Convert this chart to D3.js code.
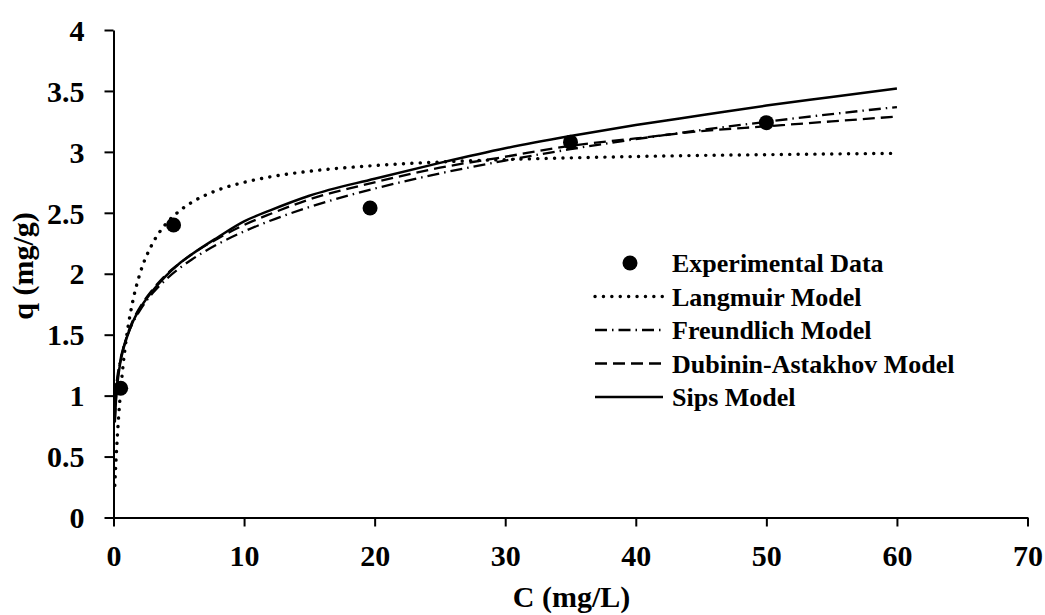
<!DOCTYPE html>
<html>
<head>
<meta charset="utf-8">
<script src="https://cdn.jsdelivr.net/npm/d3@7"></script>
<style>
  body { margin: 0; background: #fff; }
  text { font-family: "Liberation Serif", "Times New Roman", serif; font-weight: bold; fill: #000; }
</style>
</head>
<body>
<div id="chart"></div>
<script>
// experimental points
const expC = [0.55, 4.6, 19.65, 35.0, 50.0];
const expQ = [1.06, 2.40, 2.54, 3.08, 3.24];

// model curves
const modelC = [0.1, 0.2, 0.3, 0.5, 0.75, 1, 1.5, 2, 3, 4, 5, 6, 8, 10, 12, 15, 20, 25, 30, 35, 40, 45, 50, 55, 60];
const langmuirQ = [0.264, 0.485, 0.674, 0.979, 1.265, 1.481, 1.786, 1.992, 2.250, 2.407, 2.511, 2.586, 2.687, 2.750, 2.795, 2.841, 2.888, 2.917, 2.937, 2.951, 2.962, 2.971, 2.977, 2.983, 2.988];
const freundlichQ = [0.927, 1.066, 1.157, 1.283, 1.392, 1.475, 1.601, 1.696, 1.841, 1.951, 2.041, 2.117, 2.244, 2.347, 2.435, 2.547, 2.699, 2.823, 2.929, 3.022, 3.104, 3.179, 3.247, 3.310, 3.368];
const dubininQ = [0.80, 1.00, 1.12, 1.27, 1.39, 1.48, 1.62, 1.72, 1.87, 1.99, 2.08, 2.16, 2.29, 2.40, 2.49, 2.61, 2.75, 2.87, 2.96, 3.05, 3.11, 3.17, 3.21, 3.25, 3.29];
const sipsQ = [0.78, 0.98, 1.10, 1.26, 1.38, 1.47, 1.61, 1.71, 1.86, 1.98, 2.08, 2.16, 2.30, 2.43, 2.52, 2.64, 2.78, 2.91, 3.03, 3.13, 3.22, 3.30, 3.38, 3.45, 3.52];

const xTicks = [0, 10, 20, 30, 40, 50, 60, 70];
const yTicks = [0, 0.5, 1, 1.5, 2, 2.5, 3, 3.5, 4];
const legendNames = ["Experimental Data", "Langmuir Model", "Freundlich Model", "Dubinin-Astakhov Model", "Sips Model"];

const width = 1045;
const height = 615;
const margin = {left: 113.5, right: 17.5, top: 30, bottom: 97.5};

const svg = d3.select("#chart")
  .append("svg")
  .attr("width", width)
  .attr("height", height);

const xScale = d3.scaleLinear().domain([0, 70]).range([margin.left, width - margin.right]);
const yScale = d3.scaleLinear().domain([0, 4]).range([height - margin.bottom, margin.top]);

// axes
const xAxis = svg.append("g")
  .attr("transform", `translate(0,${height - margin.bottom})`)
  .call(d3.axisBottom(xScale).tickValues(xTicks).tickFormat(d => String(d))
    .tickSize(9).tickSizeOuter(0).tickPadding(12));
const yAxis = svg.append("g")
  .attr("transform", `translate(${margin.left},0)`)
  .call(d3.axisLeft(yScale).tickValues(yTicks).tickFormat(d => String(d))
    .tickSize(9).tickSizeOuter(0).tickPadding(20));

[xAxis, yAxis].forEach(function(ax) {
  ax.select(".domain").attr("stroke", "#000").attr("stroke-width", 2);
  ax.selectAll(".tick line").attr("stroke", "#000").attr("stroke-width", 2);
  ax.selectAll(".tick text").style("font-size", "30px").attr("fill", "#000");
});
xAxis.selectAll(".tick text").attr("dy", "0.93em");
yAxis.selectAll(".tick text").attr("dy", "0.34em");

// axis titles
svg.append("text")
  .attr("x", (margin.left + width - margin.right) / 2 + 1)
  .attr("y", 607)
  .attr("text-anchor", "middle")
  .style("font-size", "30px")
  .text("C (mg/L)");

svg.append("text")
  .attr("transform", `translate(33,${266}) rotate(-90)`)
  .attr("text-anchor", "middle")
  .style("font-size", "30px")
  .text("q (mg/g)");

// model lines
const styles = [
  {q: langmuirQ, dash: "0.1 8.3", width: 3.4, cap: "round"},
  {q: freundlichQ, dash: "12 5 1.5 5", width: 2.3, cap: "butt"},
  {q: dubininQ, dash: "12 6", width: 2.3, cap: "butt"},
  {q: sipsQ, dash: null, width: 2.5, cap: "butt"}
];

const line = d3.line()
  .x(d => xScale(d[0]))
  .y(d => yScale(d[1]))
  .curve(d3.curveMonotoneX);

styles.forEach(function(s) {
  const pts = modelC.map((c, i) => [c, s.q[i]]);
  svg.append("path")
    .datum(pts)
    .attr("d", line)
    .attr("fill", "none")
    .attr("stroke", "#000")
    .attr("stroke-width", s.width)
    .attr("stroke-linecap", s.cap)
    .attr("stroke-dasharray", s.dash);
});

// experimental points
svg.selectAll(".pt")
  .data(expC.map((c, i) => ({c: c, q: expQ[i]})))
  .enter()
  .append("circle")
    .attr("class", "pt")
    .attr("cx", d => xScale(d.c))
    .attr("cy", d => yScale(d.q))
    .attr("r", 7.5)
    .attr("fill", "#000");

// legend
const legend = svg.append("g").attr("transform", "translate(595,263)");
legendNames.forEach(function(name, i) {
  const y = i * 33.5;
  if (i === 0) {
    legend.append("circle").attr("cx", 35).attr("cy", y).attr("r", 7.5).attr("fill", "#000");
  } else {
    const s = styles[i - 1];
    legend.append("line")
      .attr("x1", 0).attr("x2", 68)
      .attr("y1", y).attr("y2", y)
      .attr("stroke", "#000")
      .attr("stroke-width", s.width)
      .attr("stroke-linecap", s.cap)
      .attr("stroke-dasharray", s.dash);
  }
  legend.append("text")
    .attr("x", 77)
    .attr("y", y)
    .attr("dy", "0.35em")
    .style("font-size", "26px")
    .text(name);
});
</script>
</body>
</html>
